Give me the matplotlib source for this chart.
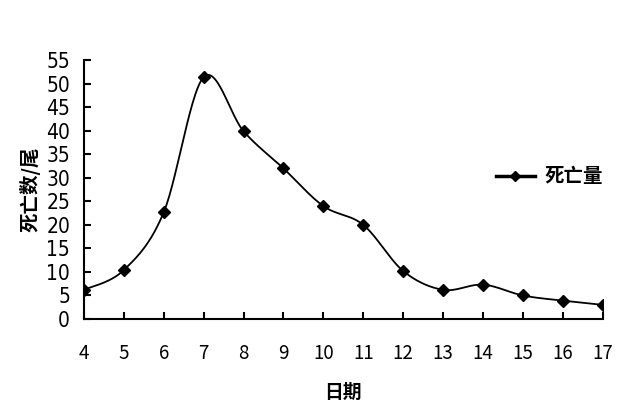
import matplotlib.pyplot as plt
import numpy as np
from matplotlib import font_manager

plt.rcParams['font.family'] = ['Noto Sans CJK SC', 'DejaVu Sans']

days = [4, 5, 6, 7, 8, 9, 10, 11, 12, 13, 14, 15, 16, 17]
deaths = [6.2, 10.4, 22.7, 51.4, 39.9, 32.0, 24.0, 20.0, 10.2, 6.2, 7.3, 5.0, 3.9, 3.0]
y_ticks = list(range(0, 56, 5))

names = set(f.name for f in font_manager.fontManager.ttflist)
narrow = 'Liberation Sans Narrow' if 'Liberation Sans Narrow' in names else 'DejaVu Sans'


def smooth(x, y, n=30):
    # excel-like smoothed line: cubic bezier between points
    x = np.asarray(x, float)
    y = np.asarray(y, float)
    xs, ys = [], []
    for i in range(len(x) - 1):
        p0 = np.array([x[max(i - 1, 0)], y[max(i - 1, 0)]])
        p1 = np.array([x[i], y[i]])
        p2 = np.array([x[i + 1], y[i + 1]])
        p3 = np.array([x[min(i + 2, len(x) - 1)], y[min(i + 2, len(x) - 1)]])
        c1 = p1 + (p2 - p0) / 6
        c2 = p2 - (p3 - p1) / 6
        t = np.linspace(0, 1, n)[:, None]
        pts = (1 - t) ** 3 * p1 + 3 * (1 - t) ** 2 * t * c1 + 3 * (1 - t) * t ** 2 * c2 + t ** 3 * p2
        xs.extend(pts[:, 0])
        ys.extend(pts[:, 1])
    return xs, ys


fig = plt.figure(figsize=(6.42, 4.04), dpi=100)
ax = fig.add_axes([0.1308, 0.2104, 0.808, 0.6406])

sx, sy = smooth(days, deaths)
ax.plot(sx, sy, color='black', lw=1.3)
ax.plot(days, deaths, ls='none', marker='D', ms=6, color='black')
ax.plot([], [], color='black', lw=2.5, marker='D', ms=5, label='死亡量')

ax.set_xlim(4, 17)
ax.set_ylim(0, 55)
ax.set_xticks(days)
ax.set_yticks(y_ticks)
ax.tick_params(direction='in', length=5, width=1.5)
ax.tick_params(axis='x', pad=17, labelsize=13.5)
ax.tick_params(axis='y', pad=10)
for lab in ax.get_yticklabels():
    lab.set_family(narrow)
    lab.set_stretch('condensed')
    lab.set_fontsize(15)
for s in ['top', 'right']:
    ax.spines[s].set_visible(False)
for s in ['left', 'bottom']:
    ax.spines[s].set_linewidth(1.5)

ax.set_ylabel('死亡数/尾', fontsize=14, fontweight='bold', labelpad=4)
ax.set_xlabel('日期', fontsize=13.5, fontweight='bold', labelpad=14)

leg = ax.legend(loc='center left', bbox_to_anchor=(0.745, 0.562), bbox_transform=fig.transFigure,
                frameon=False, handlelength=2.0, handletextpad=0.5,
                prop={'family': 'Noto Sans CJK SC', 'weight': 'bold', 'size': 14})

fig.savefig('out.png', dpi=100)
